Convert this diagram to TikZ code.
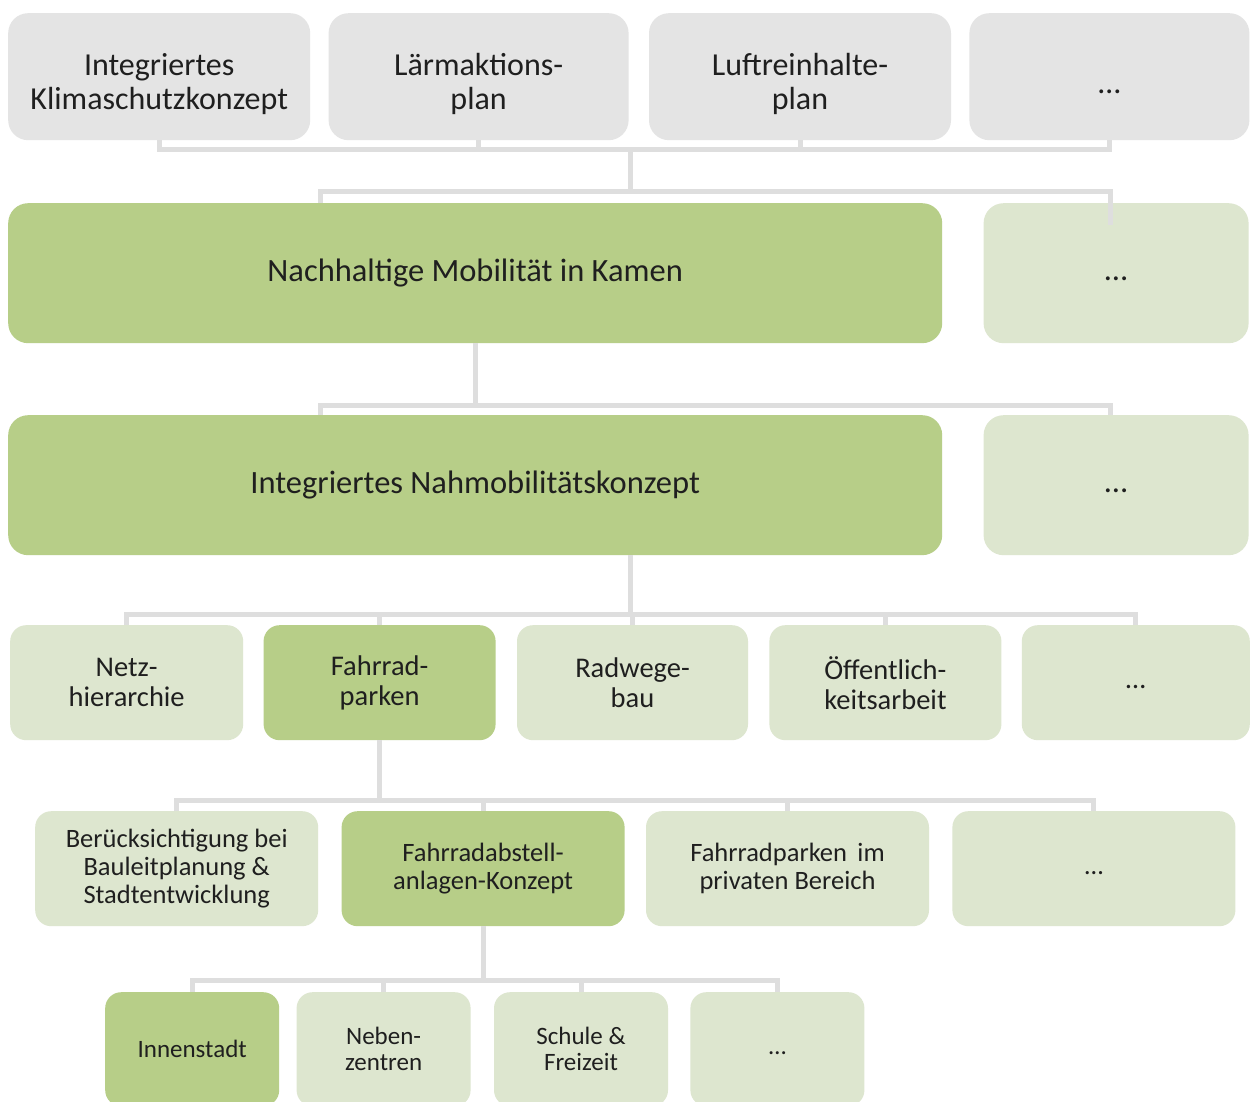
\documentclass[tikz,border=0pt]{standalone}
\usepackage{fontspec}
\setmainfont{Carlito}
\usetikzlibrary{positioning}

\definecolor{boxgrau}{HTML}{E4E4E4}
\definecolor{boxgruen}{HTML}{B7CE88}
\definecolor{boxhell}{HTML}{DDE6CF}
\definecolor{liniengrau}{HTML}{DEDEDE}

\begin{document}
\begin{tikzpicture}[x=1pt, y=-1pt, node distance=18pt]
\tikzstyle{kasten}=[rectangle, inner sep=0pt, align=center, text=black!88]
\tikzstyle{plan}=[kasten, fill=boxgrau]
\tikzstyle{haupt}=[kasten, fill=boxgruen]
\tikzstyle{neben}=[kasten, fill=boxhell]
\tikzstyle{r1}=[rounded corners=20pt, minimum height=127pt, font=\fontsize{32}{34}\selectfont, text height=66pt, text depth=0pt]
\tikzstyle{r2}=[rounded corners=20pt, minimum height=140pt, font=\fontsize{32.5}{35}\selectfont]
\tikzstyle{r4}=[rounded corners=16pt, minimum height=115pt, font=\fontsize{28.5}{30}\selectfont]
\tikzstyle{r5}=[rounded corners=16pt, minimum height=115pt, font=\fontsize{26.5}{28}\selectfont]
\tikzstyle{r6}=[rounded corners=16pt, minimum height=114pt, font=\fontsize{25}{26}\selectfont]
\tikzstyle{linie}=[draw=liniengrau, line width=5pt]

\useasboundingbox (0,0) rectangle (1251,1102);
\fill[white] (0,0) rectangle (1251,1102);
\clip (0,0) rectangle (1251,1102);

% obere Ebene: Plaene
\node[plan, r1, minimum width=302pt, anchor=north west] (a1) at (8,13) {Integriertes\\Klimaschutzkonzept};
\node[plan, r1, minimum width=300pt, right=18pt of a1] (a2) {Lärmaktions-\\plan};
\node[plan, r1, minimum width=302pt, right=20pt of a2] (a3) {Luftreinhalte-\\plan};
\node[plan, r1, minimum width=280pt, right=18pt of a3, text height=34pt] (a4) {…};

% Mobilitaet
\node[haupt, r2, minimum width=934pt, anchor=north west] (b1) at (8,203) {Nachhaltige Mobilität in Kamen};
\node[neben, r2, minimum width=265pt, right=41pt of b1] (b2) {\strut…};

% Nahmobilitaet
\node[haupt, r2, minimum width=934pt, anchor=north west] (c1) at (8,415) {Integriertes Nahmobilitätskonzept};
\node[neben, r2, minimum width=265pt, right=41pt of c1] (c2) {\strut…};

% Handlungsfelder
\node[neben, r4, minimum width=233pt, anchor=north west] (d1) at (10,625) {Netz-\\hierarchie};
\node[haupt, r4, minimum width=232pt, right=20pt of d1] (d2) {Fahrrad-\\parken};
\node[neben, r4, minimum width=231pt, right=21pt of d2] (d3) {Radwege-\\bau};
\node[neben, r4, minimum width=232pt, right=21pt of d3] (d4) {Öffentlich-\\keitsarbeit};
\node[neben, r4, minimum width=228pt, right=20pt of d4] (d5) {\strut…};

% Fahrradparken
\node[neben, r5, minimum width=283pt, anchor=north west] (e1) at (35,811) {Berücksichtigung bei\\Bauleitplanung \&\\Stadtentwicklung};
\node[haupt, r5, minimum width=283pt, right=23pt of e1] (e2) {Fahrradabstell-\\anlagen-Konzept};
\node[neben, r5, minimum width=283pt, right=21pt of e2] (e3) {Fahrradparken\, im\\privaten Bereich};
\node[neben, r5, minimum width=283pt, right=23pt of e3] (e4) {\strut…};

% Abstellanlagen
\node[haupt, r6, minimum width=174pt, anchor=north west] (f1) at (105,992) {Innenstadt};
\node[neben, r6, minimum width=174pt, right=17pt of f1] (f2) {Neben-\\zentren};
\node[neben, r6, minimum width=174pt, right=23pt of f2] (f3) {Schule \&\\Freizeit};
\node[neben, r6, minimum width=174pt, right=22pt of f3] (f4) {\strut…};

% Verbindungen
\coordinate (s1) at (630,150);
\coordinate (s2) at (630,192);
\coordinate (t1) at (320,192);
\coordinate (t2) at (1110,192);
\draw[linie] (a1.south) |- (s1) -| (a4.south);
\draw[linie] (a2.south) -- (a2.south |- s1);
\draw[linie] (a3.south) -- (a3.south |- s1);
\draw[linie] (s1) -- (s2);
\draw[linie] (t1 |- b1.north) -- (t1) -- (t2) -- ++(0,33);

\coordinate (t3) at (320,405);
\coordinate (t4) at (1110,405);
\draw[linie] (b1.south) -- (b1.south |- t3);
\draw[linie] (t3 |- c1.north) -- (t3) -- (t4) -- (t4 |- c2.north);

\coordinate (s4) at (630,614);
\draw[linie] (s4 |- c1.south) -- (s4);
\draw[linie] (d1.north) |- (s4) -| (d5.north);
\draw[linie] (d2.north) -- (d2.north |- s4);
\draw[linie] (d3.north) -- (d3.north |- s4);
\draw[linie] (d4.north) -- (d4.north |- s4);

\path (d2.south) ++(0,60) coordinate (k5);
\draw[linie] (d2.south) -- (k5);
\draw[linie] (e1.north) |- (k5) -| (e4.north);
\draw[linie] (e2.north) -- (e2.north |- k5);
\draw[linie] (e3.north) -- (e3.north |- k5);

\path (e2.south) ++(0,54) coordinate (k6);
\draw[linie] (e2.south) -- (k6);
\draw[linie] (f1.north) |- (k6) -| (f4.north);
\draw[linie] (f2.north) -- (f2.north |- k6);
\draw[linie] (f3.north) -- (f3.north |- k6);
\end{tikzpicture}
\end{document}
